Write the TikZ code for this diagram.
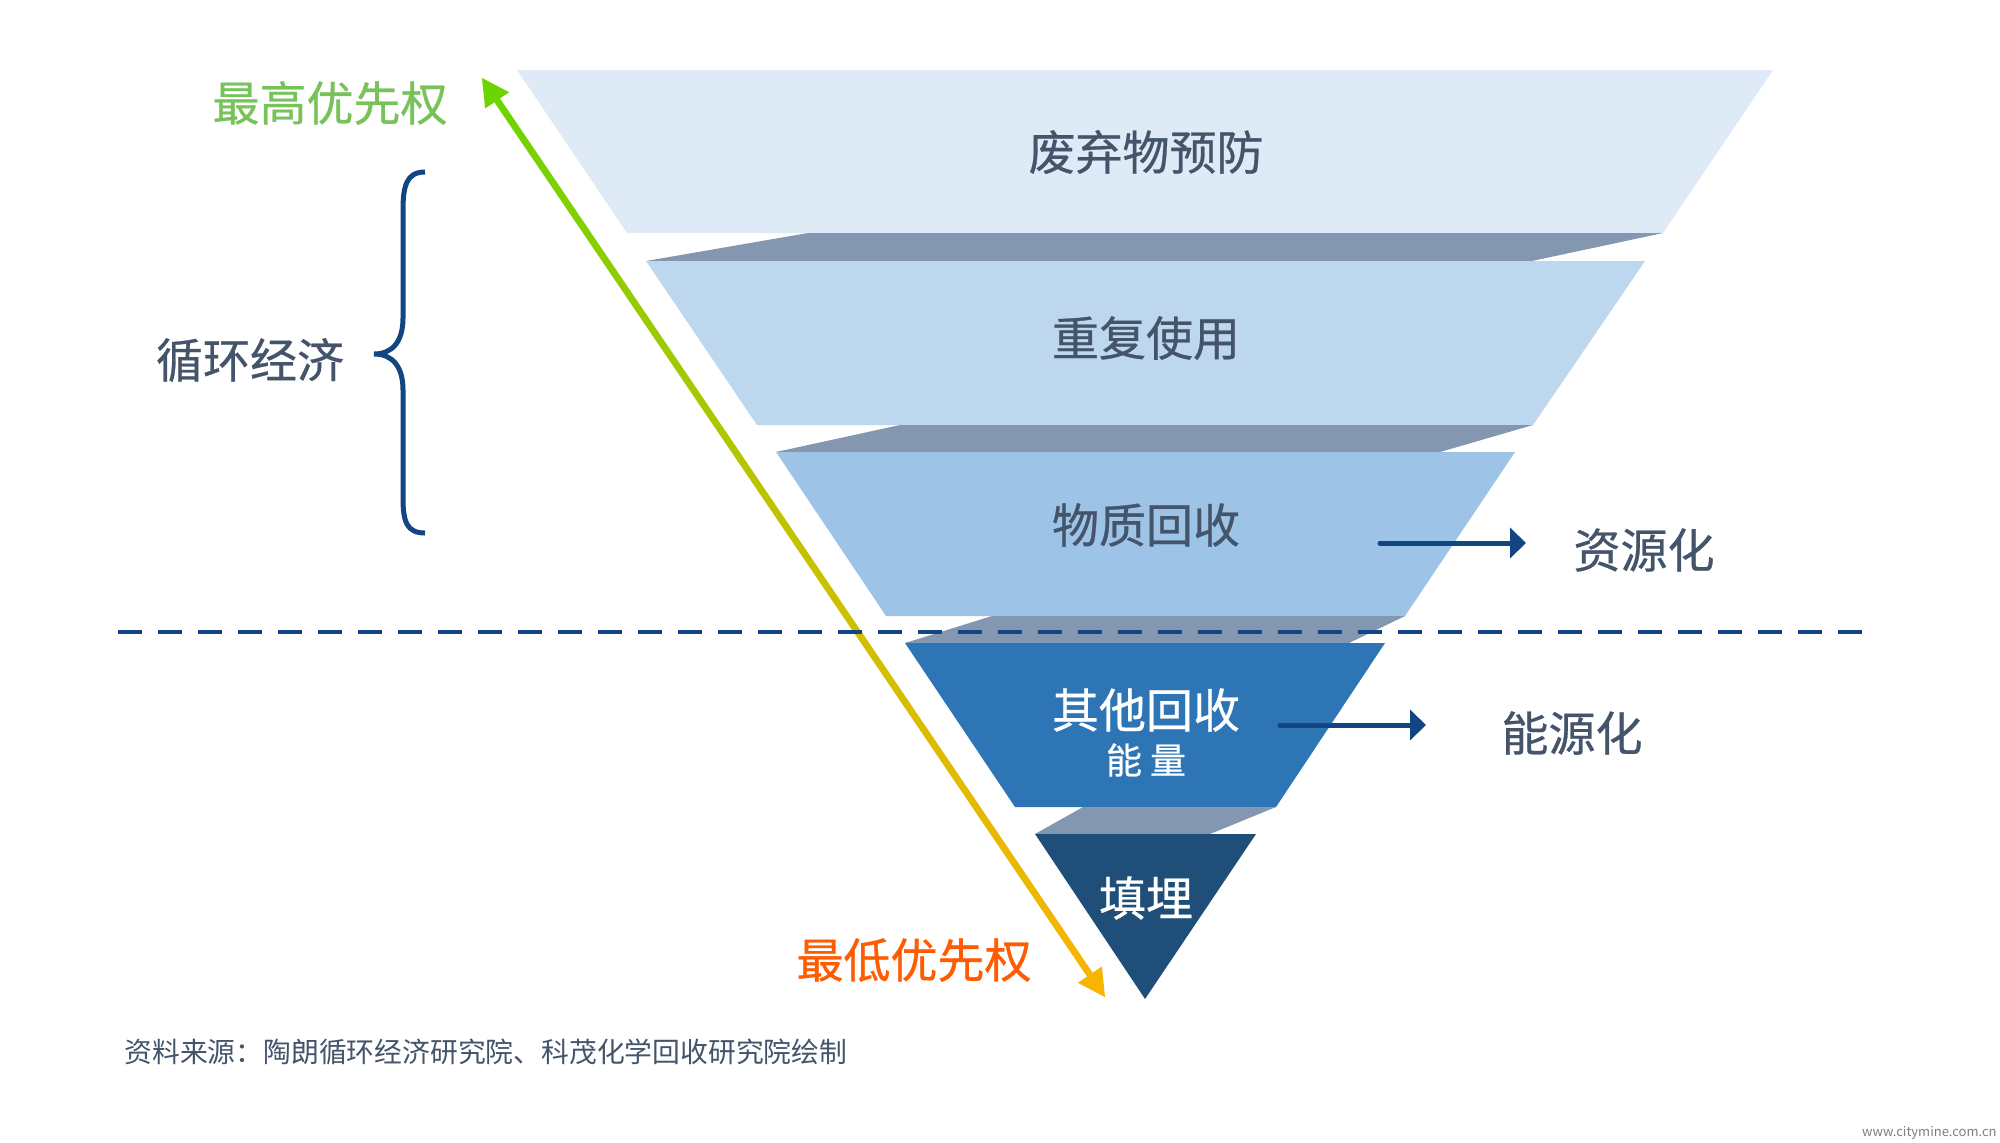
\documentclass[tikz,border=0pt]{standalone}
\usepackage{fontspec}
\setmainfont{Noto Sans CJK SC}
\newfontfamily\labelfont[FakeBold=0.6]{Noto Sans CJK SC}
\usetikzlibrary{arrows.meta,calc}
\definecolor{bandA}{HTML}{DEEBF7}
\definecolor{bandB}{HTML}{BDD7EE}
\definecolor{bandC}{HTML}{9DC3E6}
\definecolor{bandD}{HTML}{2E75B6}
\definecolor{bandE}{HTML}{1F4E79}
\definecolor{gapgray}{HTML}{8497B0}
\definecolor{slate}{HTML}{44546A}
\definecolor{navy}{HTML}{114682}
\definecolor{hiGreen}{HTML}{77C35A}
\definecolor{arrGreen}{HTML}{6CD400}
\definecolor{arrMid}{HTML}{C4C200}
\definecolor{arrAmber}{HTML}{F7B500}
\definecolor{loOrange}{HTML}{FF5B00}
\definecolor{wmgray}{HTML}{7F7F7F}
\begin{document}
\begin{tikzpicture}[x=0.5pt,y=-0.5pt,
  big/.style={inner sep=0pt,font=\labelfont\fontsize{23.5pt}{28pt}\selectfont},
  bandtext/.style={big,text=slate},
  whitetext/.style={big,text=white},
  sidearrow/.style={draw=navy,line width=2.5pt,line cap=round,-{Triangle[length=8pt,width=15pt]}},
  gapfill/.style={fill=gapgray}]
\useasboundingbox (0,0) rectangle (2000,1142);
\fill[white] (0,0) rectangle (2000,1142);

% funnel bands
\fill[bandA] (517,70) -- (1773,70) -- (1663,233) -- (627,233) -- cycle;
\fill[gapfill] (808,233) -- (1663,233) -- (1532,261) -- (646,261) -- cycle;
\fill[bandB] (646,261) -- (1645,261) -- (1533,425) -- (757,425) -- cycle;
\fill[gapfill] (900,425) -- (1533,425) -- (1440,452) -- (776,452) -- cycle;
\fill[bandC] (776,452) -- (1515,452) -- (1405,616) -- (886,616) -- cycle;
\fill[gapfill] (992,616) -- (1405,616) -- (1349,643) -- (905,643) -- cycle;
\fill[bandD] (905,643) -- (1385,643) -- (1276,807) -- (1015,807) -- cycle;
\fill[gapfill] (1083,807) -- (1276,807) -- (1210,834) -- (1035,834) -- cycle;
\fill[bandE] (1035,834) -- (1256,834) -- (1145,999) -- cycle;

% band labels
\node[bandtext] (l1) at (1146,152) {废弃物预防};
\node[bandtext] (l2) at (1146,338) {重复使用};
\node[bandtext] (l3) at (1146,525) {物质回收};
\node[whitetext] (l4) at (1146,710) {其他回收};
\node[inner sep=0pt,text=white,font=\labelfont\fontsize{18pt}{22pt}\selectfont] (l4b) at (1146,760) {能 量};
\node[whitetext] (l5) at (1146,898) {填埋};

% priority arrow with gradient
\coordinate (T) at (482,78);
\coordinate (B) at (1105,997);
\coordinate (Tb) at ($(T)!13.5pt!(B)$);
\coordinate (Bb) at ($(B)!13.5pt!(T)$);
\shade[top color=arrGreen, bottom color=arrAmber, middle color=arrMid]
  ($(Tb)!1.7pt!90:(T)$) -- ($(Tb)!1.7pt!-90:(T)$) -- ($(Bb)!1.7pt!90:(B)$) -- ($(Bb)!1.7pt!-90:(B)$) -- cycle;
\fill[arrGreen] (T) -- ($(Tb)!7.25pt!90:(T)$) -- ($(Tb)!7.25pt!-90:(T)$) -- cycle;
\fill[arrAmber] (B) -- ($(Bb)!7.25pt!90:(B)$) -- ($(Bb)!7.25pt!-90:(B)$) -- cycle;

% dashed divider
\coordinate (d1) at (118,632);
\coordinate (d2) at (1865,632);
\draw[navy,line width=1.75pt,dash pattern=on 12pt off 8pt] (d1) -- (d2);

% priority labels
\node[big,text=hiGreen] (hi) at (330,103) {最高优先权};
\node[big,text=loOrange] (lo) at (914,960) {最低优先权};

% circular economy brace
\node[bandtext] (ce) at (250,360) {循环经济};
\draw[navy,line width=2.5pt,line join=miter]
  (425,172) .. controls (407,172) and (403,185) .. (403,210)
  -- (403,318) .. controls (403,342) and (392,354) .. (374,354)
  .. controls (392,354) and (403,366) .. (403,390)
  -- (403,498) .. controls (403,522) and (407,533) .. (425,533);

% side arrows and labels
\node[bandtext] (zy) at (1644,550) {资源化};
\coordinate (r1) at (1380,543);
\coordinate (r2) at (1526,543);
\draw[sidearrow] (r1) -- (r2);
\node[bandtext] (ny) at (1572,733) {能源化};
\coordinate (e1) at (1280,725);
\coordinate (e2) at (1426,725);
\draw[sidearrow] (e1) -- (e2);

% source
\node[inner sep=0pt,anchor=west,text=slate,font=\fontsize{13.9pt}{17pt}\selectfont] (src) at (124,1052) {资料来源：陶朗循环经济研究院、科茂化学回收研究院绘制};
\node[inner sep=0pt,anchor=east,text=wmgray,font=\fontsize{6.5pt}{8pt}\selectfont] (wm) at (1997,1133) {www.citymine.com.cn};
\end{tikzpicture}
\end{document}
